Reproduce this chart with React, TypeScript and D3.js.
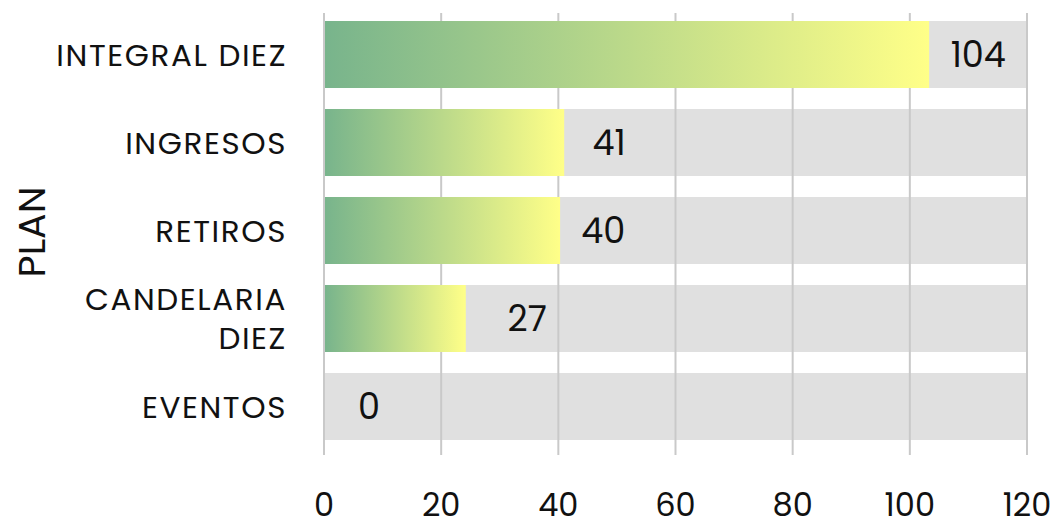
import React from "react";
import * as d3 from "d3";

const categories = ["INTEGRAL DIEZ", "INGRESOS", "RETIROS", "CANDELARIA DIEZ", "EVENTOS"];
const labelValues = [104, 41, 40, 27, 0];
const barLengths = [103.3, 41, 40.3, 24.2, 0];
const ticks = [0, 20, 40, 60, 80, 100, 120];

const W = 1063, H = 528;

export default function App() {
  const x = d3.scaleLinear().domain([0, 120]).range([324, 1027]);
  const y = d3.scaleBand().domain(categories).range([21, 440]).paddingInner(0.2386).paddingOuter(0);
  const font = "Poppins, Inter, 'Open Sans', sans-serif";
  return (
    <svg width={W} height={H} style={{ position: "absolute", left: 0, top: 0 }}>
      <defs>
        <linearGradient id="g" x1="0" x2="1" y1="0" y2="0">
          <stop offset="0" stopColor="#78b48c" />
          <stop offset="1" stopColor="#ffff88" />
        </linearGradient>
      </defs>
      <rect width={W} height={H} fill="#fff" />
      {categories.map((c) => (
        <rect key={c} x={x(0)} y={y(c)!} width={x(120) - x(0)} height={y.bandwidth()} fill="#e0e0e0" />
      ))}
      {ticks.map((t) => (
        <line key={t} x1={x(t)} x2={x(t)} y1={13} y2={455} stroke="#c9c9c9" strokeWidth={2} />
      ))}
      {categories.map((c, i) =>
        barLengths[i] > 0 ? (
          <rect key={c} x={x(0) + 1} y={y(c)!} width={x(barLengths[i]) - x(0) - 1} height={y.bandwidth()} fill="url(#g)" />
        ) : null
      )}
      {categories.map((c, i) => (
        <text key={c} x={x(labelValues[i]) + 45} y={y(c)! + y.bandwidth() / 2} dy="0.36em" textAnchor="middle" fontSize={35} fontFamily={font} fill="#111">
          {labelValues[i]}
        </text>
      ))}
      {categories.map((c) => {
        const words = c === "CANDELARIA DIEZ" ? ["CANDELARIA", "DIEZ"] : [c];
        const cy = y(c)! + y.bandwidth() / 2;
        return (
          <text key={c} x={287} y={cy} textAnchor="end" fontSize={31} letterSpacing={1.6} fontFamily={font} fill="#111">
            {words.map((w, k) => (
              <tspan key={k} x={287} dy={k === 0 ? (words.length === 1 ? "0.36em" : "-0.28em") : "1.28em"}>{w}</tspan>
            ))}
          </text>
        );
      })}
      {ticks.map((t) => (
        <text key={t} x={x(t)} y={516} textAnchor="middle" fontSize={32} fontFamily={font} fill="#111">{t}</text>
      ))}
      <text transform={`translate(45,232) rotate(-90)`} textAnchor="middle" fontSize={38} fontFamily={font} fill="#111">PLAN</text>
    </svg>
  );
}
